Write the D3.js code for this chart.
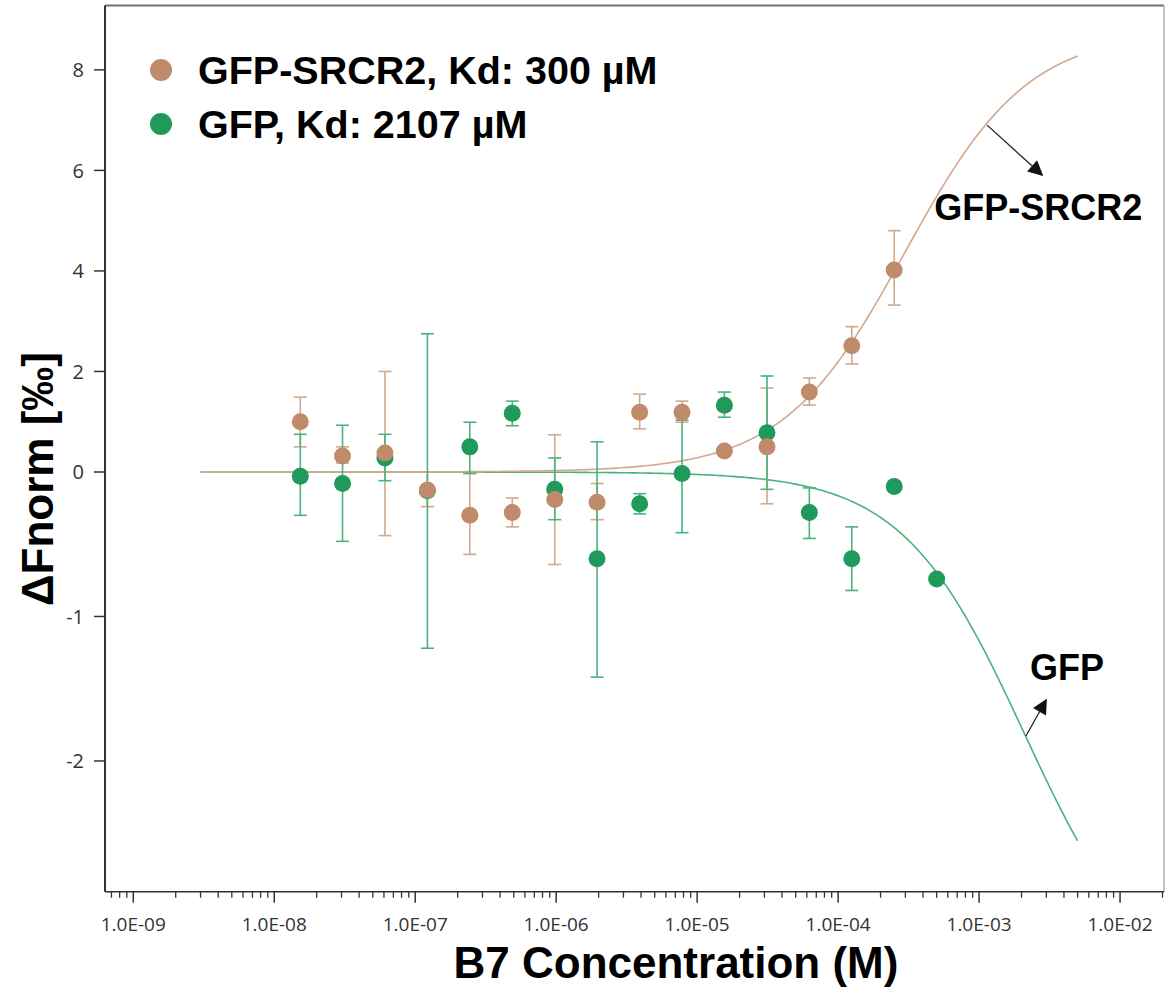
<!DOCTYPE html>
<html>
<head>
<meta charset="utf-8">
<script src="https://d3js.org/d3.v7.min.js"></script>
<style>
  body { margin: 0; background: #fff; }
  svg { display: block; }
</style>
</head>
<body>
<script>
// ---- data ----
// two-fold dilution series of B7 (M)
var conc = [1.53e-8, 3.05e-8, 6.1e-8, 1.22e-7, 2.44e-7, 4.88e-7, 9.77e-7, 1.95e-6,
            3.91e-6, 7.81e-6, 1.56e-5, 3.13e-5, 6.25e-5, 1.25e-4, 2.5e-4, 5e-4]

// GFP-SRCR2 (15 points)
var srcrVal = [1.0, 0.32, 0.38, -0.125, -0.30, -0.28, -0.19, -0.21, 1.19, 1.19, 0.42, 0.50, 1.59, 2.51, 4.02]
var srcrHi  = [1.49, 0.50, 2.0, 0.0, -0.01, -0.18, 0.74, -0.08, 1.55, 1.41, null, 1.67, 1.87, 2.89, 4.80]
var srcrLo  = [0.50, 0.18, -0.44, -0.24, -0.57, -0.38, -0.64, -0.33, 0.86, 0.99, null, -0.22, 1.33, 2.15, 3.32]

// GFP (16 points)
var gfpVal = [-0.03, -0.08, 0.28, -0.13, 0.50, 1.17, -0.12, -0.60, -0.22, -0.01, 1.33, 0.78, -0.28, -0.60, -0.10, -0.74]
var gfpHi  = [0.75, 0.93, 0.75, 2.75, 0.99, 1.41, 0.28, 0.60, -0.15, 1.03, 1.59, 1.91, -0.11, -0.38, null, null]
var gfpLo  = [-0.30, -0.48, -0.06, -1.22, -0.01, 0.92, -0.33, -1.42, -0.29, -0.42, 1.09, -0.12, -0.46, -0.82, null, null]

// fit parameters (Kd from the legend)
var kdSrcr = 300e-6, ampSrcr = 8.77
var kdGfp = 2107e-6, ampGfp = -3.63
var fitRange = [3e-9, 5e-3]

var yTicks = [8, 6, 4, 2, 0, -1, -2]
var xTicks = [1e-9, 1e-8, 1e-7, 1e-6, 1e-5, 1e-4, 1e-3, 1e-2]
var xTickLabels = ['1.0E-09', '1.0E-08', '1.0E-07', '1.0E-06', '1.0E-05', '1.0E-04', '1.0E-03', '1.0E-02']

var legendLabels = ['GFP-SRCR2, Kd: 300 \u00b5M', 'GFP, Kd: 2107 \u00b5M']

// ---- colours ----
var brownDot = '#c08b6b', brownLine = '#d2a88e'
var greenDot = '#1f9a5a', greenLine = '#4cb27c'

var W = 1165, H = 999
var svg = d3.select('body').append('svg').attr('width', W).attr('height', H)

// log x axis, piecewise y axis (negative side is stretched in the original)
var x = d3.scaleLog().domain([6.3e-10, 2.05e-2]).range([105, 1164])
var y = d3.scaleLinear().domain([-2.905, 0, 9.28]).range([891.7, 472, 5.5])

// frame
svg.append('line').attr('x1', 105).attr('x2', 1164).attr('y1', 5.5).attr('y2', 5.5)
  .attr('stroke', '#707070').attr('stroke-width', 2)
svg.append('line').attr('x1', 1164).attr('x2', 1164).attr('y1', 5.5).attr('y2', 891.7)
  .attr('stroke', '#b0b0b0').attr('stroke-width', 1.5)

// x axis with minor ticks
var minor = []
d3.range(-10, -1).forEach(function(e) {
  d3.range(2, 10).forEach(function(m) {
    var v = m * Math.pow(10, e)
    if (v > x.domain()[0] && v <= x.domain()[1]) minor.push(v)
  })
})
var gx = svg.append('g').attr('transform', 'translate(0,' + y.range()[0] + ')')
gx.append('line').attr('x1', 105).attr('x2', 1164).attr('stroke', '#333').attr('stroke-width', 1.5)
gx.selectAll('.minor').data(minor).enter().append('line')
  .attr('x1', function(d) { return x(d) }).attr('x2', function(d) { return x(d) })
  .attr('y1', 0).attr('y2', 6).attr('stroke', '#333').attr('stroke-width', 1.3)
gx.selectAll('.major').data(xTicks).enter().append('line')
  .attr('x1', function(d) { return x(d) }).attr('x2', function(d) { return x(d) })
  .attr('y1', 0).attr('y2', 11).attr('stroke', '#333').attr('stroke-width', 1.5)
gx.selectAll('text').data(xTicks).enter().append('text')
  .attr('x', function(d) { return x(d) }).attr('y', 39)
  .attr('text-anchor', 'middle')
  .style('font-family', '"Open Sans", sans-serif').style('font-size', '19px').style('fill', '#333')
  .text(function(d, i) { return xTickLabels[i] })

// y axis
var gy = svg.append('g').attr('transform', 'translate(105,0)')
gy.append('line').attr('y1', 5.5).attr('y2', 891.7).attr('stroke', '#333').attr('stroke-width', 2)
gy.selectAll('.tick').data(yTicks).enter().append('line')
  .attr('x1', -11).attr('x2', 0)
  .attr('y1', function(d) { return y(d) }).attr('y2', function(d) { return y(d) })
  .attr('stroke', '#333').attr('stroke-width', 1.5)
gy.selectAll('text').data(yTicks).enter().append('text')
  .attr('x', -21).attr('y', function(d) { return y(d) }).attr('dy', '0.36em')
  .attr('text-anchor', 'end')
  .style('font-family', '"Open Sans", sans-serif').style('font-size', '20px').style('fill', '#333')
  .text(function(d) { return d })

// axis titles
svg.append('text').attr('x', 676).attr('y', 978).attr('text-anchor', 'middle')
  .style('font-family', '"Liberation Sans", Arial, sans-serif').style('font-weight', 'bold')
  .style('font-size', '44px').text('B7 Concentration (M)')
svg.append('text').attr('transform', 'translate(53,479) rotate(-90)').attr('text-anchor', 'middle')
  .style('font-family', '"Liberation Sans", Arial, sans-serif').style('font-weight', 'bold')
  .style('font-size', '44px').text('\u0394Fnorm [\u2030]')

// fit curves
var fitC = d3.range(0, 301).map(function(i) {
  var l0 = Math.log10(fitRange[0]), l1 = Math.log10(fitRange[1])
  return Math.pow(10, l0 + (l1 - l0) * i / 300)
})
function fitLine(kd, amp) {
  return d3.line()
    .x(function(c) { return x(c) })
    .y(function(c) { return y(amp * c / (kd + c)) })(fitC)
}
svg.append('path').attr('d', fitLine(kdGfp, ampGfp)).attr('fill', 'none')
  .attr('stroke', greenLine).attr('stroke-width', 1.6)
svg.append('path').attr('d', fitLine(kdSrcr, ampSrcr)).attr('fill', 'none')
  .attr('stroke', brownLine).attr('stroke-width', 1.6)

// error bars
function errBars(vals, hi, lo, color) {
  var d = vals.map(function(v, i) { return {c: conc[i], hi: hi[i], lo: lo[i]} })
    .filter(function(p) { return p.hi !== null })
  var g = svg.append('g').attr('stroke', color).attr('stroke-width', 1.6)
  g.selectAll('.v').data(d).enter().append('line')
    .attr('x1', function(p) { return x(p.c) }).attr('x2', function(p) { return x(p.c) })
    .attr('y1', function(p) { return y(p.hi) }).attr('y2', function(p) { return y(p.lo) })
  ;['hi', 'lo'].forEach(function(k) {
    g.selectAll('.' + k).data(d).enter().append('line')
      .attr('x1', function(p) { return x(p.c) - 6.5 }).attr('x2', function(p) { return x(p.c) + 6.5 })
      .attr('y1', function(p) { return y(p[k]) }).attr('y2', function(p) { return y(p[k]) })
  })
}
errBars(srcrVal, srcrHi, srcrLo, brownLine)
errBars(gfpVal, gfpHi, gfpLo, greenLine)

// points
svg.append('g').selectAll('circle').data(gfpVal).enter().append('circle')
  .attr('cx', function(d, i) { return x(conc[i]) }).attr('cy', function(d) { return y(d) })
  .attr('r', 8.5).attr('fill', greenDot)
svg.append('g').selectAll('circle').data(srcrVal).enter().append('circle')
  .attr('cx', function(d, i) { return x(conc[i]) }).attr('cy', function(d) { return y(d) })
  .attr('r', 8.5).attr('fill', brownDot)

// legend
var leg = svg.append('g')
legendLabels.forEach(function(t, i) {
  leg.append('circle').attr('cx', 161).attr('cy', 70 + i * 54).attr('r', 11)
    .attr('fill', i == 0 ? brownDot : greenDot)
  leg.append('text').attr('x', 198).attr('y', 84 + i * 54)
    .style('font-family', '"Liberation Sans", Arial, sans-serif').style('font-weight', 'bold')
    .style('font-size', '39.5px').text(t)
})

// curve labels with arrows
svg.append('defs').append('marker').attr('id', 'head')
  .attr('viewBox', '0 0 10 10').attr('refX', 9).attr('refY', 5)
  .attr('markerWidth', 18).attr('markerHeight', 15).attr('markerUnits', 'userSpaceOnUse')
  .attr('orient', 'auto')
  .append('path').attr('d', 'M0,0L10,5L0,10Z').attr('fill', '#111')

var notes = [
  {text: 'GFP-SRCR2', c: 4.8e-4, v: 5.01, from: [1.14e-3, 6.9], to: [2.8e-3, 5.91]},
  {text: 'GFP', c: 2.3e-3, v: -1.44, from: [2.15e-3, -1.827], to: [2.99e-3, -1.578]}
]
notes.forEach(function(n) {
  svg.append('line')
    .attr('x1', x(n.from[0])).attr('y1', y(n.from[1]))
    .attr('x2', x(n.to[0])).attr('y2', y(n.to[1]))
    .attr('stroke', '#222').attr('stroke-width', 1.3).attr('marker-end', 'url(#head)')
  svg.append('text').attr('x', x(n.c)).attr('y', y(n.v))
    .style('font-family', '"Liberation Sans", Arial, sans-serif').style('font-weight', 'bold')
    .style('font-size', '36px').text(n.text)
})
</script>
</body>
</html>
